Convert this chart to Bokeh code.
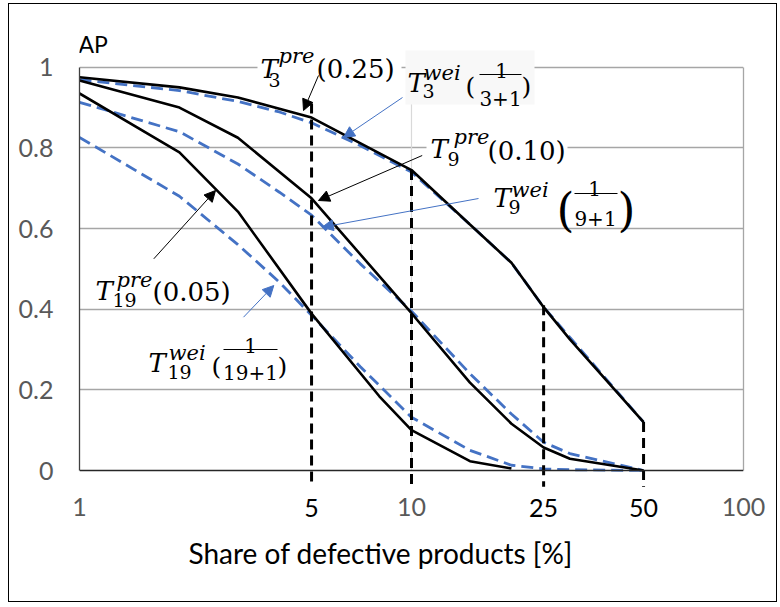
from bokeh.plotting import figure
from bokeh.models import (Range1d, FixedTicker, NumeralTickFormatter, LinearAxis, LogAxis,
                          Label, Arrow, NormalHead, Span, Title)
from bokeh.embed import file_html
from bokeh.resources import INLINE

# ---------------- data ----------------
x_pre = [1, 2, 3, 5, 10, 15, 20, 25, 30, 50]
t3_pre = [0.975, 0.95, 0.925, 0.875, 0.745, 0.61, 0.515, 0.405, 0.325, 0.12]
t9_pre = [0.967, 0.90, 0.825, 0.675, 0.39, 0.218, 0.116, 0.057, 0.029, 0.0]
x_pre19 = [1, 2, 3, 5, 8, 10, 15, 20]
t19_pre = [0.935, 0.789, 0.642, 0.389, 0.184, 0.10, 0.023, 0.005]

x_wei = [1, 2, 3, 4, 5, 7, 10, 15, 20, 25, 30, 50]
t3_wei = [0.969, 0.942, 0.915, 0.889, 0.862, 0.806, 0.74, 0.61, 0.515, 0.405, 0.33, 0.12]
t9_wei = [0.913, 0.84, 0.76, 0.69, 0.633, 0.513, 0.395, 0.24, 0.14, 0.07, 0.042, 0.0]
t19_wei = [0.826, 0.68, 0.56, 0.467, 0.385, 0.258, 0.132, 0.05, 0.013, 0.004, 0.002, 0.0]

thr_x = [5, 10, 25, 50]
thr_top = [0.91, 0.745, 0.41, 0.12]
thr_bottom = -0.04

x_ticks = [1, 10, 100]
x_marks = [5, 25, 50]
y_ticks = [0, 0.2, 0.4, 0.6, 0.8, 1.0]

x_title = "Share of defective products [%]"
y_title = "AP"

# ---------------- layout (page pixels) ----------------
OX, OY = 9, 4            # canvas origin on page
W, H = 769, 599
FL, FR = 79, 743         # frame left/right
FT, FB = 14, 494         # frame top/bottom
X0, XD = 79.0, 332.0     # page x of value 1, px per decade
Y0, YS = 470.0, 403.3    # page y of value 0, px per unit


def dx(px):
    return 10 ** ((px - X0) / XD)


def dy(py):
    return (Y0 - py) / YS


GRID = "#a6a6a6"
BLUE = "#4472c4"
SERIF = "DejaVu Serif"
SANS = "Lato"
TICK_SIZE = "25px"

p = figure(width=W, height=H, x_axis_type="log",
           x_range=Range1d(dx(FL), dx(FR)), y_range=Range1d(dy(FB), dy(FT)),
           output_backend="svg", toolbar_location=None,
           min_border_left=FL - OX, min_border_right=OX + W - FR,
           min_border_top=FT - OY, min_border_bottom=OY + H - FB)
p.margin = (3, 0, 0, 8)
p.styles = {"border": "1px solid #000000"}
p.outline_line_color = None
p.background_fill_color = "white"
p.border_fill_color = "white"


def style_x(ax, color, standoff):
    ax.formatter = NumeralTickFormatter(format="0")
    ax.axis_line_color = None
    ax.major_tick_line_color = None
    ax.minor_tick_line_color = None
    ax.major_tick_out = 0
    ax.minor_tick_out = 0
    ax.major_label_standoff = standoff
    ax.major_label_text_font = SANS
    ax.major_label_text_font_size = TICK_SIZE
    ax.major_label_text_color = color


# x axis (gray: 1, 10, 100)
xa = p.xaxis[0]
xa.ticker = FixedTicker(ticks=x_ticks)
style_x(xa, "#595959", 3)

# second x axis (black marks 5, 25, 50), pulled up into the same row
xb = LogAxis(ticker=FixedTicker(ticks=x_marks))
style_x(xb, "black", -20)
p.add_layout(xb, "below")

# x title
p.add_layout(Title(text=x_title, align="left", offset=109, standoff=28,
                   text_font=SANS, text_font_size="28px", text_font_style="normal",
                   text_color="black"), "below")

# y axis
p.yaxis.ticker = FixedTicker(ticks=y_ticks)
p.yaxis.formatter = NumeralTickFormatter(format="0.[0]")
p.yaxis.bounds = (y_ticks[0], y_ticks[-1])
p.yaxis.axis_line_color = "#404040"
p.yaxis.axis_line_width = 1.3
p.yaxis.major_tick_line_color = None
p.yaxis.minor_tick_line_color = None
p.yaxis.major_tick_out = 0
p.yaxis.minor_tick_out = 0
p.yaxis.major_label_standoff = 26
p.yaxis.major_label_text_font = SANS
p.yaxis.major_label_text_font_size = TICK_SIZE
p.yaxis.major_label_text_color = "#595959"

right = LinearAxis(ticker=FixedTicker(ticks=[]), bounds=(y_ticks[0], y_ticks[-1]),
                   axis_line_color=GRID, axis_line_width=1.3,
                   major_tick_line_color=None, minor_tick_line_color=None,
                   major_tick_out=0, minor_tick_out=0,
                   major_label_text_font_size="0px")
p.add_layout(right, "right")

p.xgrid.grid_line_color = None
p.ygrid.ticker = FixedTicker(ticks=y_ticks[1:])
p.ygrid.grid_line_color = GRID
p.ygrid.grid_line_width = 1.3

# light vertical line at 10
p.segment(x0=[x_ticks[1]], y0=[y_ticks[0]], x1=[x_ticks[1]], y1=[y_ticks[-1]],
          line_color="#d9d9d9", line_width=1.2)

# label masks
masks = [(257, 401, 36, 84, "white"), (405, 534, 50, 104, "#f8f8f8"),
         (426, 567, 122, 160, "white")]
for l, r, t, b, c in masks:
    p.quad(left=[dx(l)], right=[dx(r)], top=[dy(t)], bottom=[dy(b)],
           fill_color=c, line_color=None)

# curves
dash_blue = "12 6"
p.line(x_wei, t3_wei, line_color=BLUE, line_width=2.8, line_dash=dash_blue)
p.line(x_wei, t9_wei, line_color=BLUE, line_width=2.8, line_dash=dash_blue)
p.line(x_wei, t19_wei, line_color=BLUE, line_width=2.8, line_dash=dash_blue)
p.line(x_pre, t3_pre, line_color="black", line_width=2.6)
p.line(x_pre, t9_pre, line_color="black", line_width=2.6)
p.line(x_pre19, t19_pre, line_color="black", line_width=2.6)

p.segment(x0=thr_x, y0=thr_top, x1=thr_x, y1=[thr_bottom] * len(thr_x),
          line_color="black", line_width=3.0, line_dash="10 6")

p.add_layout(Span(location=y_ticks[0], dimension="width", line_color="#262626",
                  line_width=1.5))

# arrows (page px tail -> tip)
arrows = [((318, 75), (303, 110), "black"),
          ((402, 97), (343, 137), BLUE),
          ((421.7, 155), (318, 200), "black"),
          ((478, 198), (321.7, 226.7), BLUE),
          ((153.3, 258.3), (215, 190), "black"),
          ((243, 316.7), (273.3, 285), BLUE)]
for (sx, sy), (ex, ey), c in arrows:
    p.add_layout(Arrow(end=NormalHead(size=11, fill_color=c, line_color=c),
                       x_start=dx(sx), y_start=dy(sy), x_end=dx(ex), y_end=dy(ey),
                       line_color=c, line_width=1))


def txt(s, px, py, size, italic=False, align="left", font=SERIF, color="black"):
    p.add_layout(Label(x=dx(px), y=dy(py), text=s, text_font=font,
                       text_font_size=f"{size}px",
                       text_font_style="italic" if italic else "normal",
                       text_align=align, text_baseline="alphabetic",
                       text_color=color))


def bar(x0, x1, py):
    p.segment(x0=[dx(x0)], y0=[dy(py)], x1=[dx(x1)], y1=[dy(py)],
              line_color="black", line_width=1.2)


# T3 pre (0.25)
txt("T", 260, 68, 26, True); txt("pre", 278, 55, 21, True); txt("3", 268, 79, 19)
txt("(0.25)", 316, 68, 26)
# T3 wei (1/(3+1))
txt("T", 407, 82, 26, True); txt("wei", 423, 72, 21, True); txt("3", 422, 90, 19)
txt("(", 465, 86, 25); txt("1", 501, 70, 20, align="center"); bar(479, 521, 74)
txt("3+1", 500, 98, 20, align="center"); txt(")", 521, 86, 25)
# T9 pre (0.10)
txt("T", 430, 148, 26, True); txt("pre", 453, 136, 21, True); txt("9", 447, 158, 19)
txt("(0.10)", 487, 150, 26)
# T9 wei (1/(9+1))
txt("T", 493, 197, 26, True); txt("wei", 511, 189, 21, True); txt("9", 508, 206, 19)
txt("(", 556, 209, 46); txt("1", 594, 188, 20, align="center"); bar(574, 617, 193)
txt("9+1", 595, 218, 20, align="center"); txt(")", 617, 209, 46)
# T19 pre (0.05)
txt("T", 95, 290, 26, True); txt("pre", 116, 279, 21, True); txt("19", 112, 299, 19)
txt("(0.05)", 152, 291, 26)
# T19 wei (1/(19+1))
txt("T", 148, 362, 26, True); txt("wei", 168, 352, 21, True); txt("19", 167, 371, 19)
txt("(", 211, 366, 25); txt("1", 250, 345, 20, align="center"); bar(223, 277, 349)
txt("19+1", 250, 372, 20, align="center"); txt(")", 277, 366, 25)

txt(y_title, 78, 43, 23, font=SANS)

open("out.html", "w").write(file_html(p, INLINE))
